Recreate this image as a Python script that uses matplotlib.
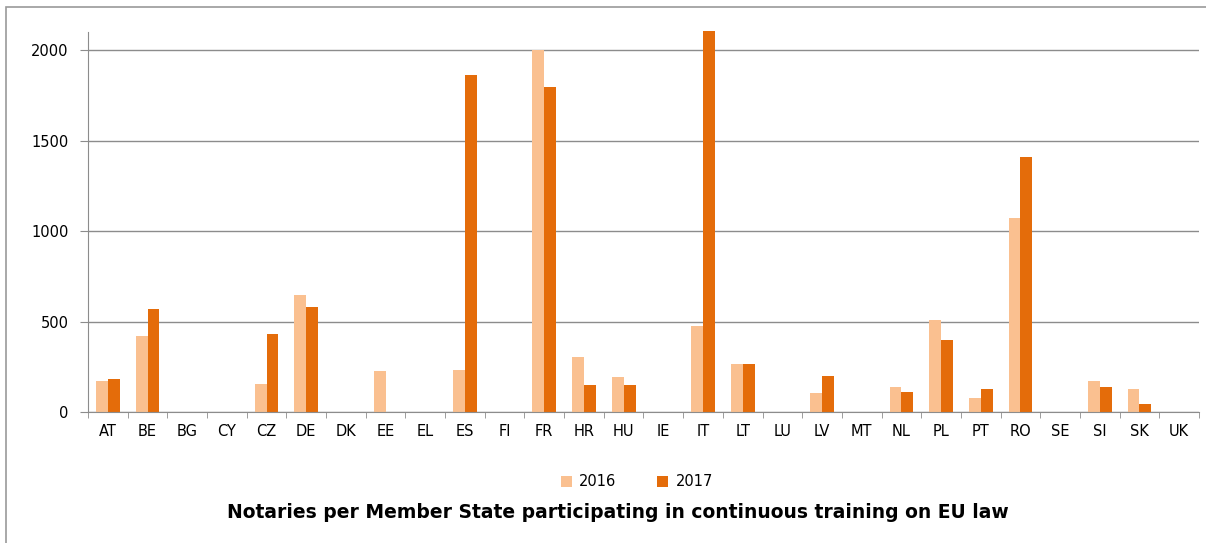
import numpy as np
import matplotlib
matplotlib.use("Agg")
import matplotlib.pyplot as plt
from matplotlib.patches import Rectangle

plt.rcParams['font.family'] = ['DejaVu Sans']

countries = ["AT", "BE", "BG", "CY", "CZ", "DE", "DK", "EE", "EL", "ES", "FI", "FR", "HR", "HU",
             "IE", "IT", "LT", "LU", "LV", "MT", "NL", "PL", "PT", "RO", "SE", "SI", "SK", "UK"]
vals_2016 = [173, 418, 0, 0, 156, 644, 0, 224, 0, 230, 0, 2000, 302, 193,
             0, 478, 265, 0, 107, 0, 138, 510, 77, 1071, 0, 173, 125, 0]
vals_2017 = [180, 570, 0, 0, 432, 578, 0, 0, 0, 1864, 0, 1796, 149, 149,
             0, 2105, 265, 0, 199, 0, 112, 399, 125, 1408, 0, 138, 46, 0]
series_names = ["2016", "2017"]
colors = ["#FAC090", "#E46C0A"]

fig = plt.figure(figsize=(12.06, 5.43), dpi=100)
W, H = 1206, 543
ax = fig.add_axes([88 / W, 1 - 412 / H, (1199 - 88) / W, (412 - 32) / H])

x = np.arange(len(countries))
bw = 0.3
ax.bar(x - bw / 2, vals_2016, bw, color=colors[0], label=series_names[0], clip_on=False)
ax.bar(x + bw / 2, vals_2017, bw, color=colors[1], label=series_names[1], clip_on=False)

ax.set_xlim(-0.5, len(countries) - 0.5)
ax.set_ylim(0, 2100)
ax.set_yticks([0, 500, 1000, 1500, 2000])
ax.yaxis.grid(True, color="#8c8c8c", linewidth=1)
ax.set_axisbelow(True)

ax.set_xticks(x)
ax.set_xticklabels(countries, fontsize=10.5)
ax.set_xticks(np.arange(-0.5, len(countries)), minor=True)
ax.tick_params(axis="x", which="major", length=0, pad=9)
ax.tick_params(axis="x", which="minor", length=4, color="#8c8c8c")
ax.tick_params(axis="y", length=6, color="#8c8c8c", labelsize=10.5, pad=8)

for s in ["top", "right"]:
    ax.spines[s].set_visible(False)
ax.spines["left"].set_color("#8c8c8c")
ax.spines["bottom"].set_color("#8c8c8c")

fig.legend(loc="center", bbox_to_anchor=(637 / W, 1 - 482 / H), ncol=2, frameon=False,
           fontsize=10.5, handlelength=0.75, handleheight=0.75, columnspacing=2.8, handletextpad=0.5)

fig.text(617.5 / W, 1 - 513 / H, "Notaries per Member State participating in continuous training on EU law",
         ha="center", va="center", fontsize=13.5, fontweight="bold")

fig.patches.append(Rectangle((6 / W, -0.05), 1.2, 1 - 7 / H + 0.05,
                             transform=fig.transFigure, fill=False, edgecolor="#9a9a9a", linewidth=1.2))

fig.savefig("out.png", dpi=100)
